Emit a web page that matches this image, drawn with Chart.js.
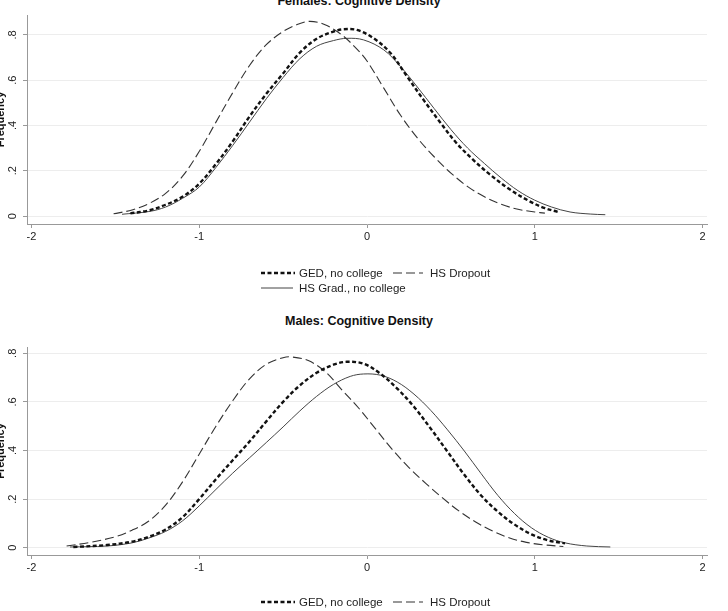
<!DOCTYPE html>
<html>
<head>
<meta charset="utf-8">
<script src="https://cdn.jsdelivr.net/npm/chart.js@4.4.0/dist/chart.umd.min.js"></script>
<style>
  body { margin: 0; width: 728px; height: 611px; overflow: hidden; background: #fff; position: relative;
         font-family: "Liberation Sans", Arial, sans-serif; color: #111; }
  canvas.plot { position: absolute; left: -8px; }
  .title { position: absolute; left: 0; width: 718px; text-align: center; font-weight: bold;
           font-size: 12.5px; line-height: 16px; }
  .item { position: absolute; font-size: 11.5px; line-height: 14px; white-space: nowrap; color: #222; }
  .sample { position: absolute; }
</style>
</head>
<body>
<div class="title" style="top:-7px">Females: Cognitive Density</div>
<canvas id="fem" class="plot" width="736" height="300" style="top:0px"></canvas>
<div class="title" style="top:313px">Males: Cognitive Density</div>
<canvas id="mal" class="plot" width="736" height="311" style="top:300px"></canvas>

<script>
// axis ticks and series names
const xTicks = [-2, -1, 0, 1, 2];
const yTicks = [0, 0.2, 0.4, 0.6, 0.8];
const yTickLabels = ["0", ".2", ".4", ".6", ".8"];
const seriesLabels = ["GED, no college", "HS Dropout", "HS Grad., no college"];

// Females: density curves (x = score, y = frequency)
const femGedX = [-1.41, -1.3, -1.2, -1.1, -1.0, -0.9, -0.8, -0.7, -0.6, -0.5, -0.4, -0.3, -0.2, -0.14, -0.06, 0.04, 0.14, 0.24, 0.34, 0.44, 0.53, 0.63, 0.73, 0.85, 0.97, 1.06, 1.14];
const femGedY = [0.012, 0.025, 0.05, 0.085, 0.143, 0.23, 0.33, 0.44, 0.54, 0.63, 0.722, 0.783, 0.815, 0.825, 0.822, 0.785, 0.72, 0.615, 0.51, 0.41, 0.325, 0.25, 0.185, 0.118, 0.065, 0.035, 0.018];
const femDropX = [-1.51, -1.4, -1.3, -1.2, -1.1, -1.0, -0.9, -0.8, -0.7, -0.6, -0.5, -0.42, -0.34, -0.25, -0.15, -0.05, 0.0, 0.1, 0.2, 0.3, 0.4, 0.5, 0.6, 0.7, 0.8, 0.9, 1.0, 1.06];
const femDropY = [0.01, 0.027, 0.055, 0.1, 0.175, 0.285, 0.415, 0.545, 0.665, 0.757, 0.815, 0.845, 0.86, 0.845, 0.8, 0.73, 0.685, 0.565, 0.445, 0.345, 0.262, 0.19, 0.13, 0.085, 0.052, 0.03, 0.018, 0.013];
const femGradX = [-1.46, -1.3, -1.2, -1.1, -1.0, -0.9, -0.8, -0.7, -0.6, -0.5, -0.4, -0.3, -0.2, -0.12, -0.02, 0.1, 0.2, 0.3, 0.4, 0.5, 0.6, 0.7, 0.8, 0.9, 1.0, 1.1, 1.21, 1.33, 1.42];
const femGradY = [0.008, 0.02, 0.04, 0.078, 0.128, 0.215, 0.312, 0.415, 0.518, 0.612, 0.695, 0.75, 0.775, 0.785, 0.778, 0.734, 0.66, 0.57, 0.475, 0.382, 0.3, 0.232, 0.168, 0.112, 0.07, 0.04, 0.018, 0.009, 0.006];

// Males
const malGedX = [-1.75, -1.55, -1.4, -1.3, -1.2, -1.1, -1.0, -0.9, -0.8, -0.7, -0.6, -0.5, -0.4, -0.3, -0.2, -0.12, -0.02, 0.08, 0.18, 0.28, 0.38, 0.48, 0.58, 0.68, 0.78, 0.88, 0.98, 1.08, 1.18];
const malGedY = [0.003, 0.011, 0.025, 0.045, 0.075, 0.125, 0.2, 0.282, 0.36, 0.437, 0.52, 0.6, 0.668, 0.72, 0.753, 0.765, 0.757, 0.716, 0.655, 0.58, 0.49, 0.395, 0.3, 0.215, 0.148, 0.095, 0.055, 0.03, 0.018];
const malDropX = [-1.79, -1.65, -1.5, -1.4, -1.3, -1.2, -1.1, -1.0, -0.9, -0.8, -0.7, -0.6, -0.5, -0.45, -0.35, -0.25, -0.15, -0.05, 0.05, 0.15, 0.25, 0.35, 0.45, 0.55, 0.65, 0.75, 0.85, 0.95, 1.05, 1.17];
const malDropY = [0.007, 0.022, 0.045, 0.072, 0.11, 0.175, 0.27, 0.385, 0.5, 0.605, 0.695, 0.755, 0.782, 0.785, 0.77, 0.725, 0.65, 0.575, 0.49, 0.405, 0.33, 0.265, 0.205, 0.15, 0.105, 0.068, 0.04, 0.022, 0.012, 0.005];
const malGradX = [-1.77, -1.55, -1.4, -1.3, -1.2, -1.1, -1.0, -0.9, -0.8, -0.7, -0.6, -0.5, -0.4, -0.3, -0.2, -0.1, -0.02, 0.08, 0.18, 0.28, 0.38, 0.48, 0.58, 0.68, 0.78, 0.88, 0.98, 1.08, 1.18, 1.31, 1.45];
const malGradY = [0.003, 0.007, 0.02, 0.04, 0.067, 0.11, 0.172, 0.24, 0.307, 0.37, 0.433, 0.497, 0.563, 0.623, 0.672, 0.705, 0.715, 0.71, 0.682, 0.632, 0.565, 0.485, 0.398, 0.305, 0.215, 0.14, 0.082, 0.043, 0.02, 0.007, 0.003];

const lineStyles = [
  { borderColor: "#111", borderWidth: 2.4, borderDash: [4, 2.5] },
  { borderColor: "#333", borderWidth: 1.1, borderDash: [9, 4] },
  { borderColor: "#444", borderWidth: 1, borderDash: [] },
];

Chart.defaults.font.family = "'Liberation Sans', Arial, sans-serif";

function makeChart(id, xsList, ysList, yMin, yMax, padTop, padBottom) {
  const datasets = xsList.map((xs, k) => Object.assign({
    label: seriesLabels[k],
    data: xs.map((x, i) => ({ x: x, y: ysList[k][i] })),
    pointRadius: 0,
    fill: false,
    tension: 0.35,
  }, lineStyles[k]));

  return new Chart(document.getElementById(id), {
    type: "line",
    data: { datasets: datasets },
    options: {
      responsive: false,
      animation: false,
      devicePixelRatio: 1,
      layout: { padding: { top: padTop, right: 21, bottom: padBottom, left: 0 } },
      plugins: { legend: { display: false }, tooltip: { enabled: false } },
      scales: {
        x: {
          type: "linear",
          min: -2.026,
          max: 2.026,
          afterBuildTicks: (s) => { s.ticks = xTicks.map((v) => ({ value: v })); },
          afterFit: (s) => { s.height = 30; },
          grid: { drawOnChartArea: false, tickLength: 4, tickColor: "#999" },
          border: { color: "#999" },
          ticks: { padding: 2, color: "#222", font: { size: 11 }, maxRotation: 0, autoSkip: false,
                   callback: (v) => String(v) },
        },
        y: {
          type: "linear",
          min: yMin,
          max: yMax,
          afterBuildTicks: (s) => { s.ticks = yTicks.map((v) => ({ value: v })); },
          afterFit: (s) => { s.width = 35; },
          grid: { color: "#ededed", tickLength: 4, tickColor: "#999" },
          border: { color: "#999" },
          ticks: { padding: 5, color: "#222", font: { size: 11 }, minRotation: 90, maxRotation: 90,
                   crossAlign: "center", autoSkip: false, callback: (v, i) => yTickLabels[i] },
          title: { display: true, text: "Frequency", color: "#111",
                   font: { size: 11, weight: "bold" }, padding: { top: 2, bottom: 0 } },
        },
      },
    },
  });
}

makeChart("fem", [femGedX, femDropX, femGradX], [femGedY, femDropY, femGradY], -0.035, 0.888, 15, 46);
makeChart("mal", [malGedX, malDropX, malGradX], [malGedY, malDropY, malGradY], -0.03, 0.826, 47, 26);

// legend: two rows under each panel
function addLegend(textTop) {
  const items = [
    { k: 0, sx: 261, w: 34, tx: 299, row: 0 },
    { k: 1, sx: 393, w: 30, tx: 430, row: 0 },
    { k: 2, sx: 261, w: 32, tx: 299, row: 1 },
  ];
  items.forEach((it) => {
    const top = textTop + it.row * 15;
    const c = document.createElement("canvas");
    c.className = "sample";
    c.width = it.w;
    c.height = 6;
    c.style.left = it.sx + "px";
    c.style.top = (top + 4) + "px";
    const g = c.getContext("2d");
    const st = lineStyles[it.k];
    g.strokeStyle = st.borderColor;
    g.lineWidth = st.borderWidth;
    g.setLineDash(st.borderDash);
    g.beginPath();
    g.moveTo(0, 3);
    g.lineTo(it.w, 3);
    g.stroke();
    document.body.appendChild(c);

    const t = document.createElement("div");
    t.className = "item";
    t.style.left = it.tx + "px";
    t.style.top = top + "px";
    t.textContent = seriesLabels[it.k];
    document.body.appendChild(t);
  });
}
addLegend(266);
addLegend(595);
</script>
</body>
</html>
